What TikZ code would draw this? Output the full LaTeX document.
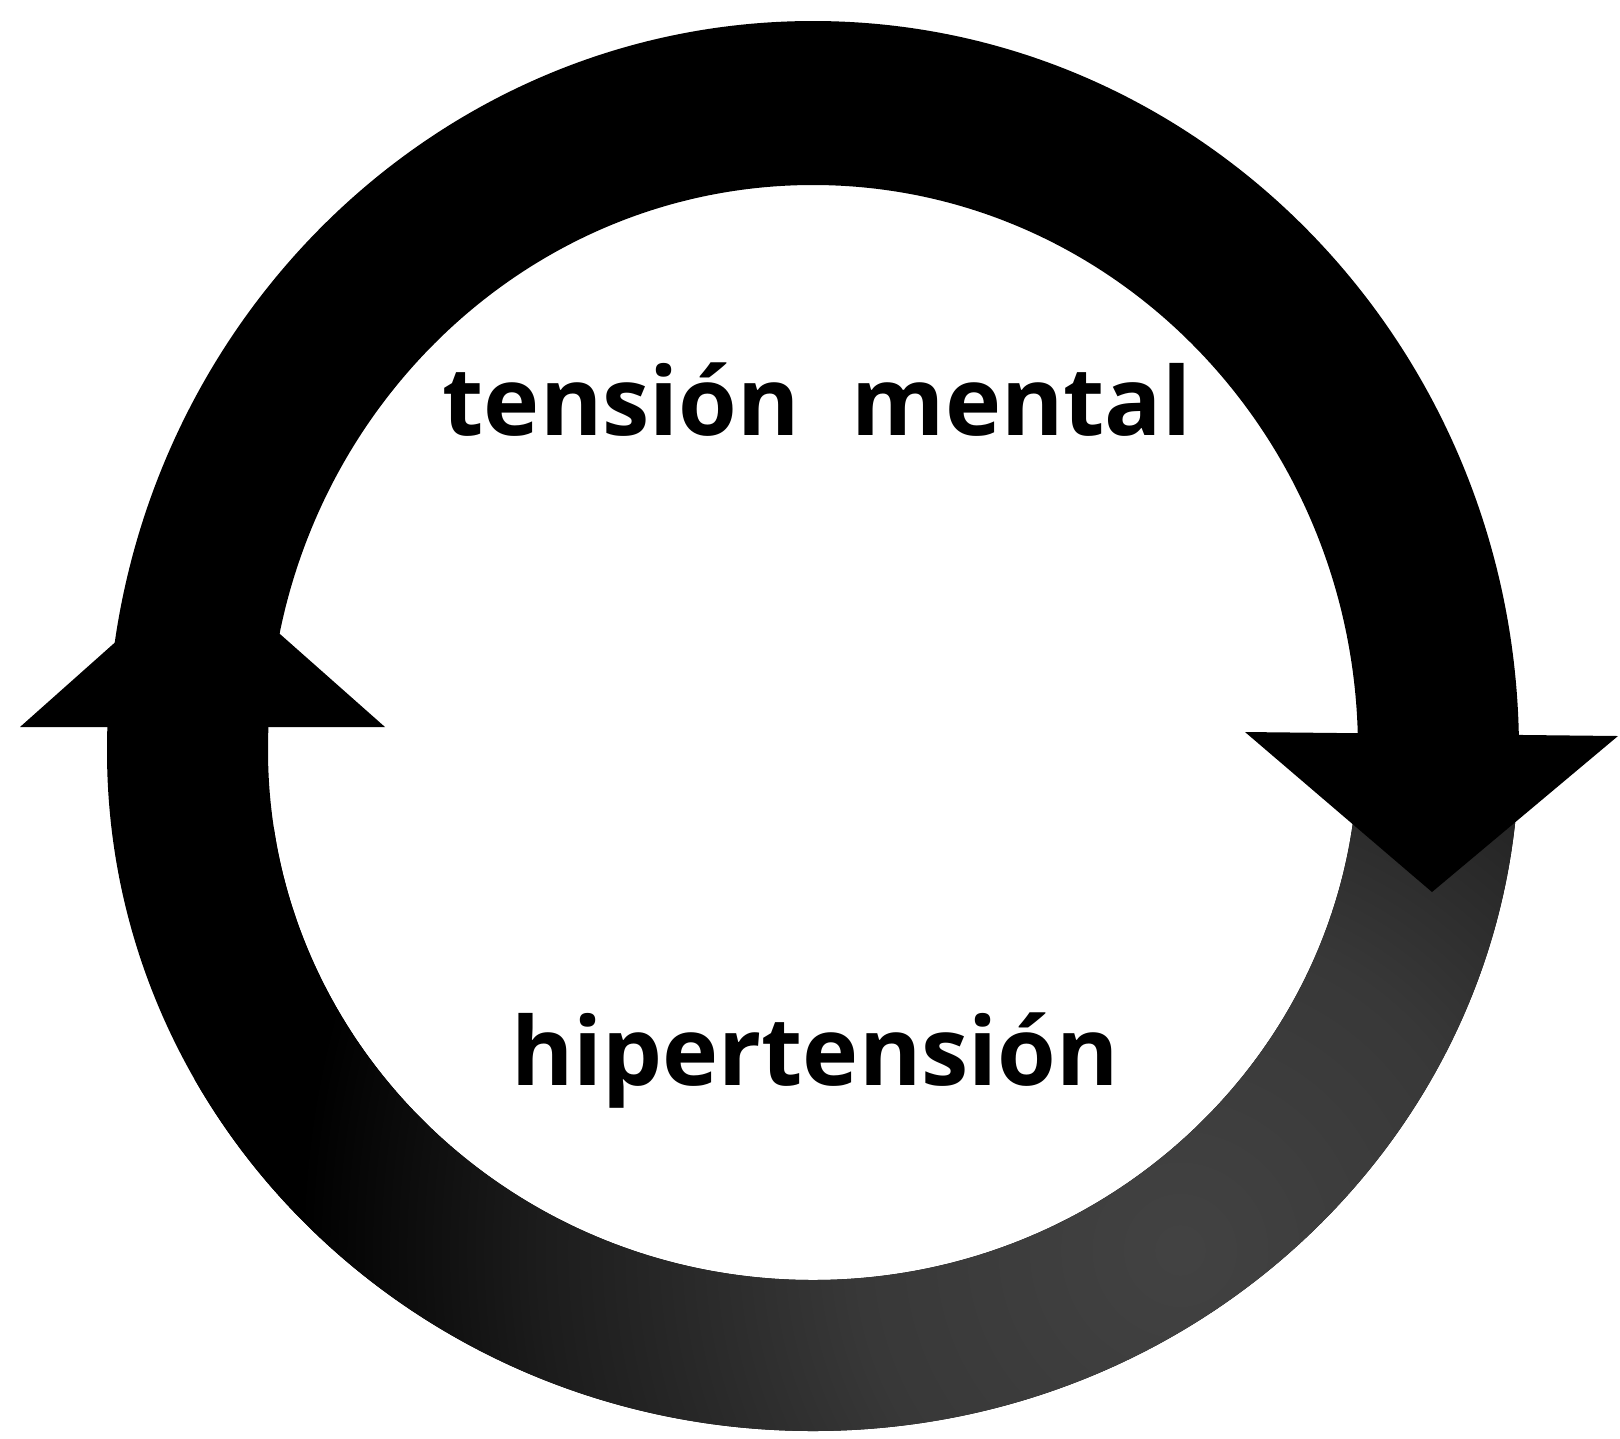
\documentclass[tikz,border=0pt]{standalone}
\usepackage{fontspec}
\usepackage{xcolor}
\usepackage{tikz}
\usetikzlibrary{calc}
\newfontfamily\lblfont{Open Sans}
\colorlet{inkx}{black}
\colorlet{screenx}{black!74}
\pgfdeclareradialshading{halftone}{\pgfpoint{0bp}{0bp}}{%
  color(0bp)=(screenx); color(8bp)=(black!78); color(16bp)=(black!89);
  color(22bp)=(inkx); color(50bp)=(inkx)}
\tikzset{
  lbl/.style={font={\lblfont\bfseries\fontsize{27pt}{31pt}\selectfont},inner sep=0pt,anchor=base,inkx},
  head/.style={fill=inkx},
  band/.style={even odd rule}
}

\begin{document}
\begin{tikzpicture}[x=0.01cm,y=-0.01cm]
\useasboundingbox (0,0) rectangle (1620,1438);
% ring, black with a screened lower right
\begin{scope}[band]
\clip (107,751) arc[start angle=180,end angle=360,x radius=706,y radius=730]
  arc[start angle=0,end angle=180,x radius=706,y radius=680] -- cycle
  (268,750) arc[start angle=180,end angle=360,x radius=545,y radius=565]
  arc[start angle=0,end angle=180,x radius=545,y radius=530] -- cycle;
\fill[inkx] (0,0) rectangle (1620,1438);
\clip (0,740) rectangle (1620,1438);
\shade[shading=halftone] (1180,1250) circle (1000);
\end{scope}
% arrow heads
\fill[head] (20,727) -- (202,565) -- (385,727) -- cycle;
\fill[head] (1245,732) -- (1432,892) -- (1618,736) -- cycle;
% labels
\node[lbl] (mental) at (817,435) {tensión\hspace{0.55em}mental};
\node[lbl] (hyper) at (815,1085) {hipertensión};
\end{tikzpicture}
\end{document}
